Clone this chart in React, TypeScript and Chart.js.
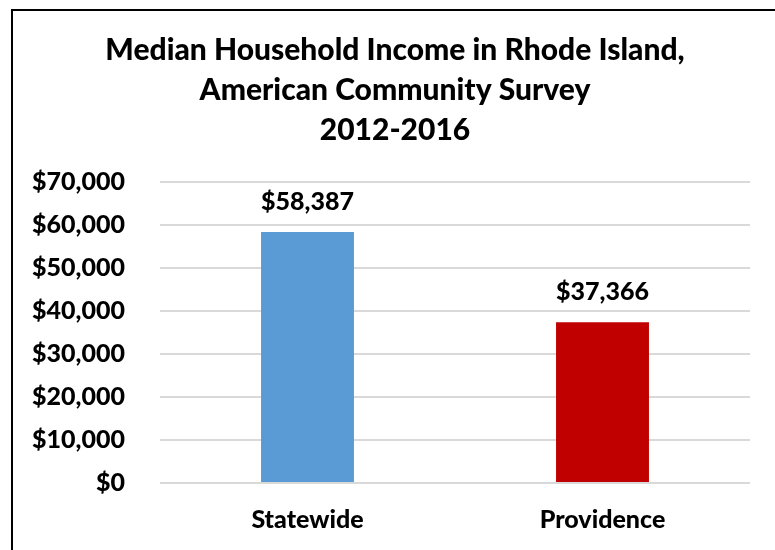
import React, { useEffect, useRef } from "react";
import { Chart, registerables } from "chart.js";

Chart.register(...registerables);

const titleLines = ["Median Household Income in Rhode Island,", "American Community Survey", "2012-2016"];
const categories = ["Statewide", "Providence"];
const incomeValues = [58387, 37366];
const barColors = ["#5B9BD5", "#C00000"];
const yMin = 0;
const yMax = 70000;
const yStep = 10000;

const FONT = "Lato, 'Open Sans', sans-serif";
const W = "900";

const fmt = (v: number) => "$" + Number(v).toLocaleString("en-US");

const valueLabels = {
  id: "valueLabels",
  afterDatasetsDraw(chart: any) {
    const ctx = chart.ctx;
    const meta = chart.getDatasetMeta(0);
    ctx.save();
    ctx.font = `${W} 25px ${FONT}`;
    ctx.fillStyle = "#000";
    ctx.textAlign = "center";
    ctx.textBaseline = "middle";
    meta.data.forEach((bar: any, i: number) => {
      ctx.fillText(fmt(incomeValues[i]), bar.x, bar.y - 30);
    });
    ctx.restore();
  },
};

const titleBlock = {
  id: "titleBlock",
  afterDraw(chart: any) {
    const ctx = chart.ctx;
    ctx.save();
    ctx.font = `${W} 30px ${FONT}`;
    ctx.fillStyle = "#000";
    ctx.textAlign = "center";
    ctx.textBaseline = "middle";
    const cx = (chart.chartArea.left + chart.chartArea.right) / 2 - 60;
    titleLines.forEach((line, i) => {
      ctx.fillText(line, cx, 50 + i * 40);
    });
    ctx.restore();
  },
};

export default function App() {
  const ref = useRef<HTMLCanvasElement>(null);
  useEffect(() => {
    if (!ref.current) return;
    const chart = new Chart(ref.current, {
      type: "bar",
      data: {
        labels: categories,
        datasets: [
          {
            data: incomeValues,
            backgroundColor: barColors,
            categoryPercentage: 0.63,
            barPercentage: 0.5,
          },
        ],
      },
      options: {
        responsive: false,
        animation: false,
        layout: { padding: { left: 0, right: 25, top: 182, bottom: 0 } },
        plugins: {
          legend: { display: false },
          tooltip: { enabled: false },
          title: { display: false },
        },
        scales: {
          x: {
            grid: { display: false, drawTicks: false },
            border: { display: false },
            ticks: { color: "#000", padding: 22, font: { family: FONT, size: 25, weight: W as any } },
            afterFit: (s: any) => {
              s.height = 550 - 483;
            },
          },
          y: {
            min: yMin,
            max: yMax,
            ticks: {
              stepSize: yStep,
              color: "#000",
              padding: 35,
              font: { family: FONT, size: 25, weight: W as any },
              callback: (v: any) => fmt(v),
            },
            grid: { color: "#D9D9D9", lineWidth: 2, drawTicks: false },
            border: { display: false },
            afterFit: (s: any) => {
              s.width = 160;
            },
          },
        },
      },
      plugins: [valueLabels, titleBlock],
    });
    return () => chart.destroy();
  }, []);

  return (
    <>
      <div
        style={{
          position: "absolute",
          left: 11,
          top: 9,
          width: 764,
          height: 541,
          boxSizing: "border-box",
          borderLeft: "2px solid #000",
          borderTop: "2px solid #000",
          background: "#fff",
        }}
      />
      <canvas
        ref={ref}
        width={775}
        height={550}
        style={{ position: "absolute", left: 0, top: 0, width: 775, height: 550 }}
      />
    </>
  );
}
